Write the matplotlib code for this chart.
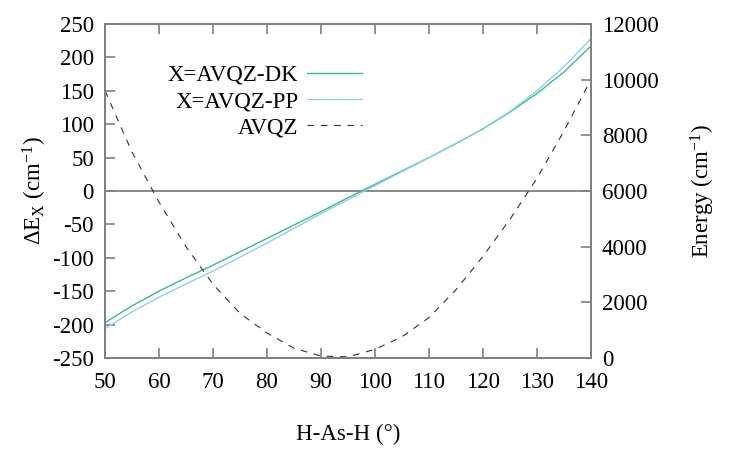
import matplotlib
matplotlib.use("Agg")
import matplotlib.pyplot as plt

plt.rcParams['font.family'] = ['Liberation Serif', 'DejaVu Serif']
plt.rcParams['mathtext.fontset'] = 'custom'
plt.rcParams['mathtext.rm'] = 'Liberation Serif'
plt.rcParams['mathtext.it'] = 'Liberation Serif:italic'
plt.rcParams['axes.unicode_minus'] = False

angles = [50, 55, 60, 65, 70, 75, 80, 85, 90, 95, 100, 105, 110, 115, 120, 125, 130, 135, 140]
dk = [-197, -172, -150, -130, -111, -91, -71, -51, -31, -10, 10, 30, 50, 71, 93, 118, 146, 178, 217]
pp = [-206, -181, -159, -139, -120, -99, -78, -56, -34, -13, 8, 29, 50, 71, 93, 119, 150, 186, 228]
energy = [9600, 7400, 5600, 4000, 2650, 1600, 900, 350, 70, 40, 310, 760, 1450, 2450, 3650, 4980, 6450, 8150, 10000]

xticks = [50, 60, 70, 80, 90, 100, 110, 120, 130, 140]
yticks = [-250, -200, -150, -100, -50, 0, 50, 100, 150, 200, 250]
y2ticks = [0, 2000, 4000, 6000, 8000, 10000, 12000]

fig = plt.figure(figsize=(7.47, 4.49), dpi=100)
ax = fig.add_axes([0.1406, 0.2027, 0.791 - 0.1406, 0.9465 - 0.2027])
ax2 = ax.twinx()

spine_c = '#808080'
ax.axhline(0, color='#808080', lw=1.3, zorder=1)
l1, = ax.plot(angles, dk, color='#3fb88f', lw=1.0, label='X=AVQZ-DK')
l2, = ax.plot(angles, pp, color='#8ccfef', lw=1.0, label='X=AVQZ-PP')
l3, = ax2.plot(angles, energy, color='#333333', lw=0.8, ls=(0, (6, 6)), label='AVQZ')

ax.set_xlim(50, 140)
ax.set_ylim(-250, 250)
ax2.set_ylim(0, 12000)
ax.set_xticks(xticks)
ax.set_yticks(yticks)
ax2.set_yticks(y2ticks)

fs = 16.5
for a in (ax, ax2):
    for s in a.spines.values():
        s.set_color(spine_c)
        s.set_linewidth(1.3)
ax.tick_params(axis='x', direction='in', top=True, length=7, width=1.2, color=spine_c, labelsize=fs, pad=10)
ax.tick_params(axis='y', direction='in', length=7, width=1.2, color=spine_c, labelsize=fs, pad=8)
ax2.tick_params(axis='y', direction='in', length=7, width=1.2, color=spine_c, labelsize=fs, pad=8)

ax.set_xlabel('H-As-H (°)', fontsize=fs, labelpad=22)
ax.set_ylabel(r'$\Delta$E$_{\mathrm{X}}$ (cm$^{-1}$)', fontsize=fs, labelpad=2)
ax2.set_ylabel(r'Energy (cm$^{-1}$)', fontsize=fs, labelpad=22)

leg = ax.legend(handles=[l1, l2, l3], loc='upper left', bbox_to_anchor=(0.11, 0.905),
                frameon=False, markerfirst=False, fontsize=fs, handlelength=2.4,
                handletextpad=0.4, labelspacing=0.22, borderaxespad=0)
for t in leg.get_texts():
    t.set_ha('right')
leg._legend_box.align = 'right'

fig.savefig('out.png', dpi=100)
